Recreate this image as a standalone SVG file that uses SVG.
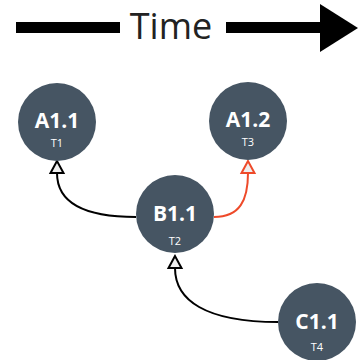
<svg xmlns="http://www.w3.org/2000/svg" width="358" height="360" viewBox="0 0 358 360">
<style>
.node{fill:#465563}
.lbl{font-family:"Open Sans","Liberation Sans",sans-serif;font-weight:bold;font-size:21px;fill:#fff;text-anchor:middle}
.sub{font-family:"Open Sans","Liberation Sans",sans-serif;font-size:11px;fill:#fff;text-anchor:middle}
.edge{fill:none;stroke-width:2}
.head{fill:#eee;stroke-width:2}
</style>
<g id="timeline">
<rect x="16" y="22" width="104" height="11" fill="#000"/>
<text x="171" y="39" font-family="'Open Sans','Liberation Sans',sans-serif" font-size="36" text-anchor="middle" fill="#222">Time</text>
<rect x="226" y="22" width="97" height="11" fill="#000"/>
<polygon points="320,4 358,28 320,52" fill="#000"/>
</g>
<g id="connectors">
<path class="edge" stroke="#000" d="M136,217 C80,217 57,200 57,173"/>
<polygon class="head" points="57,161 50.5,173 63.5,173" stroke="#000"/>
<path class="edge" stroke="#ee4a2a" d="M214,217 C240,217 248,200 248,173"/>
<polygon class="head" points="248,161 241.5,173 254.5,173" stroke="#ee4a2a"/>
<path class="edge" stroke="#000" d="M278,322 C205,322 175,300 175,268"/>
<polygon class="head" points="175,256 168.5,268 181.5,268" stroke="#000"/>
</g>
<g id="A1.1"><circle class="node" cx="57" cy="122" r="39"/><text class="lbl" x="57" y="128">A1.1</text><text class="sub" x="57" y="147">T1</text></g>
<g id="A1.2"><circle class="node" cx="248" cy="121" r="39"/><text class="lbl" x="248" y="127">A1.2</text><text class="sub" x="248" y="146">T3</text></g>
<g id="B1.1"><circle class="node" cx="175" cy="214" r="39"/><text class="lbl" x="175" y="221">B1.1</text><text class="sub" x="175" y="245">T2</text></g>
<g id="C1.1"><circle class="node" cx="317" cy="322" r="39"/><text class="lbl" x="317" y="329">C1.1</text><text class="sub" x="317" y="351">T4</text></g>
</svg>
